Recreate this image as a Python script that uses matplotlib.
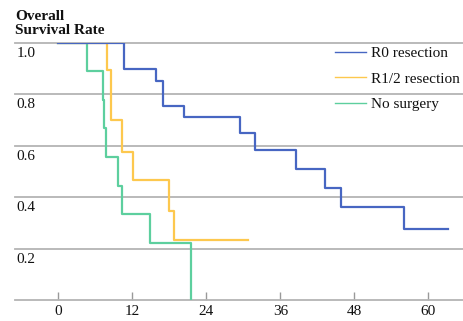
import matplotlib
matplotlib.use("Agg")
import matplotlib.pyplot as plt
from matplotlib.lines import Line2D
from matplotlib.transforms import blended_transform_factory, offset_copy

# Kaplan-Meier step data (months, survival)
r0_t = [0, 10.7, 15.8, 17.0, 20.4, 29.4, 31.9, 38.5, 43.2, 45.9, 56.1, 63.1]
r0_s = [1.0, 0.90, 0.85, 0.755, 0.713, 0.648, 0.583, 0.51, 0.437, 0.363, 0.276, 0.276]

r12_t = [0, 7.95, 8.6, 10.4, 12.2, 18.0, 18.8, 30.8]
r12_s = [1.0, 0.894, 0.70, 0.574, 0.467, 0.347, 0.233, 0.233]

ns_t = [0, 4.6, 7.2, 7.5, 7.8, 9.7, 10.3, 14.9, 21.6]
ns_s = [1.0, 0.889, 0.778, 0.667, 0.556, 0.444, 0.333, 0.222, 0.0]

series_labels = ["R0 resection", "R1/2 resection", "No surgery"]
colors = ["#4766c2", "#fdc84e", "#5dcf9e"]

x_ticks = [0, 12, 24, 36, 48, 60]
y_ticks = [0.2, 0.4, 0.6, 0.8, 1.0]
y_tick_labels = ["0.2", "0.4", "0.6", "0.8", "1.0"]

serif = ["Liberation Serif", "DejaVu Serif"]
plt.rcParams["font.family"] = serif

FS = 11
TXT = "#111111"
fig = plt.figure(figsize=(4.64, 3.21), dpi=100)
ax = fig.add_axes([15 / 464, 21 / 321, 448 / 464, 257.2 / 321])
ax.set_xlim(-7.0, 65.6)
ax.set_ylim(0, 1.0)

grid_c = "#b4b4b4"
for y in y_ticks:
    ax.axhline(y, color=grid_c, lw=1.3, zorder=1, clip_on=False)

# draw curves: no surgery, R1/2 then R0 on top
ax.step(ns_t, ns_s, where="post", color=colors[2], lw=1.6, zorder=3)
ax.step(r12_t, r12_s, where="post", color=colors[1], lw=1.6, zorder=4)
ax.step(r0_t, r0_s, where="post", color=colors[0], lw=1.6, zorder=5)

for s in ["top", "right", "left"]:
    ax.spines[s].set_visible(False)
ax.spines["bottom"].set_color(grid_c)
ax.spines["bottom"].set_linewidth(1.3)

ax.set_xticks(x_ticks)
ax.set_xticklabels([str(v) for v in x_ticks], fontsize=FS, color=TXT)
ax.tick_params(axis="x", direction="in", length=6, width=1.0, color="#999999", pad=3.5)
ax.set_yticks([])

trans = blended_transform_factory(ax.transAxes, ax.transData)
trans = offset_copy(trans, fig=fig, x=0, y=-4, units="dots")
for y, lab in zip(y_ticks, y_tick_labels):
    ax.text(0.004, y, lab, transform=trans, ha="left", va="top",
            fontsize=FS, color=TXT)

fig.text(15 / 464, 1 - 10 / 321, "Overall\nSurvival Rate", ha="left", va="top",
         fontsize=FS, fontweight="bold", color=TXT, linespacing=1.15)

handles = [Line2D([], [], color=c, lw=1.0) for c in colors]
leg = ax.legend(handles, series_labels, loc="upper left",
                bbox_to_anchor=(320 / 448, 0.985), frameon=False,
                prop={"family": serif, "size": FS}, handlelength=2.0,
                handletextpad=0.35, labelspacing=0.76, borderaxespad=0.0,
                borderpad=0.0)
for t in leg.get_texts():
    t.set_color(TXT)
leg.set_zorder(6)

fig.savefig("out.png", dpi=100)
